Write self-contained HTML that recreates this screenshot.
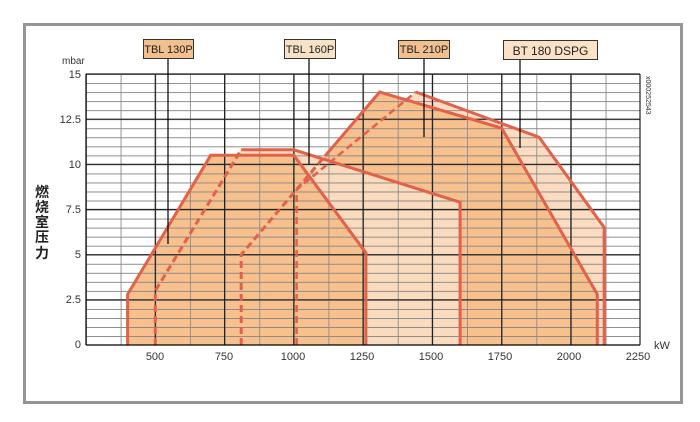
<!DOCTYPE html>
<html><head><meta charset="utf-8"><style>
html,body{margin:0;padding:0;background:#fff;}
svg{display:block;font-family:"Liberation Sans","Noto Sans CJK SC",sans-serif;}
</style></head><body>
<svg width="700" height="422" viewBox="0 0 700 422" xmlns="http://www.w3.org/2000/svg">
<defs>
<pattern id="gp" x="86" y="74.05" width="34.64" height="9.035" patternUnits="userSpaceOnUse">
<line x1="0" y1="0.45" x2="34.64" y2="0.45" stroke="#8a8a8a" stroke-width="0.9"/>
<line x1="0.45" y1="0" x2="0.45" y2="9.035" stroke="#8a8a8a" stroke-width="0.9"/>
</pattern>
</defs>
<rect x="0" y="0" width="700" height="422" fill="#fff"/>
<rect x="24.5" y="24.5" width="657" height="378" fill="none" stroke="#959595" stroke-width="3"/>
<g stroke="none">
<polygon fill="#fcdcc0" points="296.6,345 296.6,189.6 415.8,92 539.1,137.2 604.2,227.5 604.2,345"/>
<polygon fill="#f8c08c" points="241.2,345 241.2,254.7 379.7,92 501.7,128.2 597.3,294.4 597.3,345"/>
<polygon fill="#fbdbbd" points="155.3,345 155.3,290.8 241.2,149.8 293.8,149.8 460.1,202.2 460.1,345"/>
<polygon fill="#f8c08c" points="127.6,345 127.6,294.4 210.7,155.3 293.8,155.3 365.9,252.8 365.9,345"/>
</g>
<rect x="86" y="74" width="554" height="271" fill="url(#gp)"/>
<g stroke="#222" stroke-width="1.2">
<line x1="86" x2="640" y1="74" y2="74"/>
<line x1="86" x2="640" y1="119.2" y2="119.2"/>
<line x1="86" x2="640" y1="164.3" y2="164.3"/>
<line x1="86" x2="640" y1="209.5" y2="209.5"/>
<line x1="86" x2="640" y1="254.7" y2="254.7"/>
<line x1="86" x2="640" y1="299.8" y2="299.8"/>
<line x1="155.3" x2="155.3" y1="74" y2="345"/>
<line x1="224.6" x2="224.6" y1="74" y2="345"/>
<line x1="293.8" x2="293.8" y1="74" y2="345"/>
<line x1="363.1" x2="363.1" y1="74" y2="345"/>
<line x1="432.4" x2="432.4" y1="74" y2="345"/>
<line x1="501.7" x2="501.7" y1="74" y2="345"/>
<line x1="570.9" x2="570.9" y1="74" y2="345"/>
<line x1="640" x2="640" y1="74" y2="345"/>
</g>
<g fill="none" stroke="#e2614a" stroke-width="3" stroke-linejoin="miter">
<polyline points="127.6,345 127.6,294.4 210.7,155.3 293.8,155.3 365.9,252.8 365.9,345"/>
<polyline points="241.2,149.8 293.8,149.8 460.1,202.2 460.1,345"/>
<polyline points="155.3,345 155.3,290.8 241.2,149.8" stroke-dasharray="7,4"/>
<polyline points="241.2,345 241.2,254.7 325,156" stroke-dasharray="7,4"/>
<polyline points="325,156 379.7,92 501.7,128.2 597.3,294.4 597.3,345"/>
<polyline points="296.6,345 296.6,189.6 415.8,92" stroke-dasharray="7,4" stroke-width="2.5"/>
<polyline points="415.8,92 539.1,137.2 604.2,227.5 604.2,345"/>
</g>
<g stroke="#000" stroke-width="1.2">
<line x1="86" y1="74" x2="86" y2="345"/>
<line x1="86" y1="345" x2="640" y2="345"/>
<line x1="168" y1="58" x2="168" y2="244"/>
<line x1="309" y1="58" x2="309" y2="164"/>
<line x1="424" y1="58" x2="424" y2="137"/>
<line x1="520" y1="59" x2="520" y2="148"/>
</g>
<g font-size="11" fill="#222">
<rect x="143.5" y="39.5" width="50" height="19" fill="#f2bf8e" stroke="#333"/>
<text x="168.5" y="53" text-anchor="middle">TBL 130P</text>
<rect x="284.5" y="39.5" width="51" height="19" fill="#f8e2c6" stroke="#333"/>
<text x="310" y="53" text-anchor="middle">TBL 160P</text>
<rect x="398.5" y="40.5" width="51" height="18" fill="#f2bf8e" stroke="#333"/>
<text x="424" y="53" text-anchor="middle">TBL 210P</text>
<rect x="503.5" y="40.5" width="94" height="19" fill="#fbe2c6" stroke="#333"/>
<text x="550.5" y="55" text-anchor="middle" font-size="12">BT 180 DSPG</text>
</g>
<g font-size="11" fill="#333" text-anchor="end">
<text x="81" y="78">15</text>
<text x="81" y="123">12.5</text>
<text x="81" y="168">10</text>
<text x="81" y="213">7.5</text>
<text x="81" y="258">5</text>
<text x="81" y="303">2.5</text>
<text x="81" y="348">0</text>
</g>
<text x="62" y="64" font-size="10" fill="#333">mbar</text>
<g font-size="11" fill="#333" text-anchor="middle">
<text x="155" y="360">500</text>
<text x="224" y="360">750</text>
<text x="293" y="360">1000</text>
<text x="362" y="360">1250</text>
<text x="431" y="360">1500</text>
<text x="500" y="360">1750</text>
<text x="569" y="360">2000</text>
<text x="638" y="360">2250</text>
</g>
<text x="654" y="349" font-size="11" fill="#333">kW</text>
<g font-size="14" fill="#222" text-anchor="middle" font-weight="bold">
<text x="42" y="197">燃</text>
<text x="42" y="212">烧</text>
<text x="42" y="227">室</text>
<text x="42" y="242">压</text>
<text x="42" y="258">力</text>
</g>
<text transform="translate(646,76) rotate(90)" font-size="7" fill="#333">x000252543</text>
</svg>
</body></html>
